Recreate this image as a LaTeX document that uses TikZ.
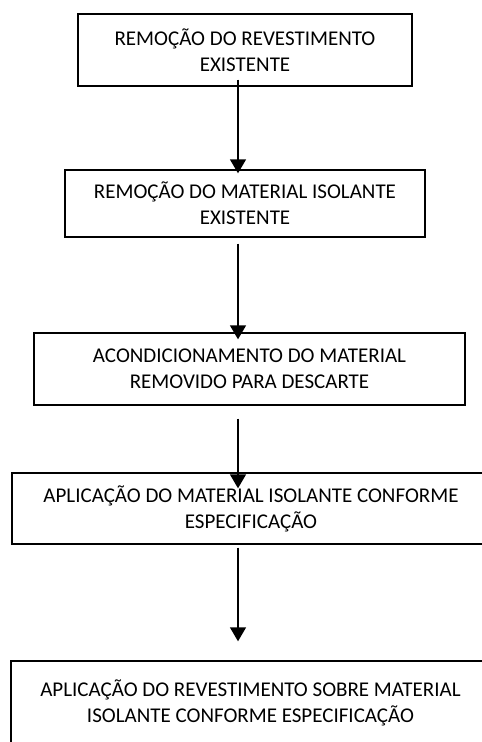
\documentclass[tikz,border=0pt]{standalone}
\usepackage{fontspec}
\setmainfont{Carlito}
\usetikzlibrary{calc,arrows.meta}

\begin{document}
\begin{tikzpicture}[x=1pt, y=-1pt,
	etapa/.style={draw, line width=1.4pt, align=center, inner sep=0pt,
		font=\fontsize{21}{26}\selectfont},
	seta/.style={line width=1.5pt, -{Triangle[width=16pt,length=14pt]}}]
	\clip (0,0) rectangle (482,742);
	\coordinate (eixo) at (238,0);

	\node[etapa, minimum width=334, minimum height=72] (rev) at (245,50) {REMOÇÃO DO REVESTIMENTO\\EXISTENTE};
	\node[etapa, minimum width=360, minimum height=67] (iso) at (245,203.5) {REMOÇÃO DO MATERIAL ISOLANTE\\EXISTENTE};
	\node[etapa, minimum width=431, minimum height=72] (acond) at (249.5,369) {ACONDICIONAMENTO DO MATERIAL\\REMOVIDO PARA DESCARTE};
	\node[etapa, minimum width=478, minimum height=71] (apliso) at (251,508.5) {APLICAÇÃO DO MATERIAL ISOLANTE CONFORME\\ESPECIFICAÇÃO};
	\node[etapa, minimum width=479, minimum height=84] (aplrev) at (250.5,703) {APLICAÇÃO DO REVESTIMENTO SOBRE MATERIAL\\ISOLANTE CONFORME ESPECIFICAÇÃO};

	\draw [seta] ($(rev.south -| eixo)+(0,-7)$) -- ($(iso.north -| eixo)+(0,4)$);
	\draw [seta] ($(iso.south -| eixo)+(0,6)$) -- ($(acond.north -| eixo)+(0,7)$);
	\draw [seta] ($(acond.south -| eixo)+(0,13)$) -- ($(apliso.north -| eixo)+(0,16)$);
	\draw [seta] ($(apliso.south -| eixo)+(0,3)$) -- ($(aplrev.north -| eixo)+(0,-19)$);
\end{tikzpicture}
\end{document}
